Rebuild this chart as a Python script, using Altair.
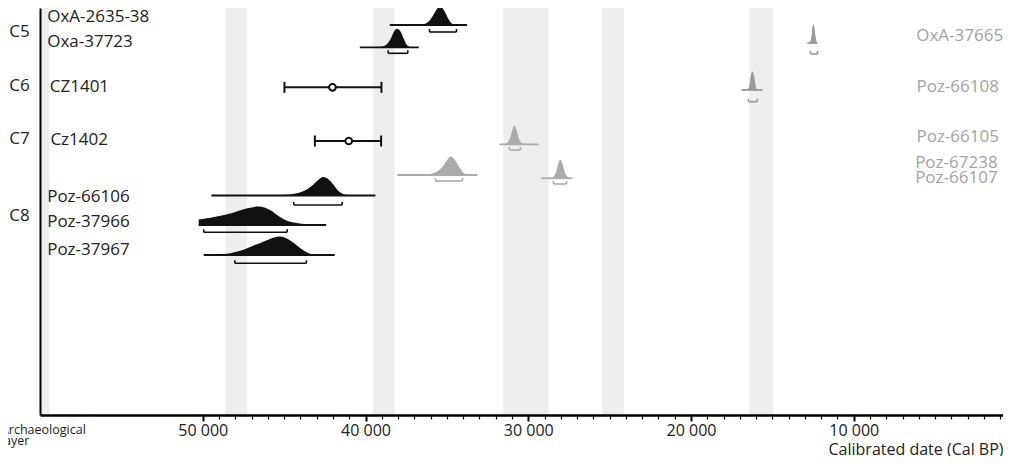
import altair as alt
import pandas as pd

# ---------------- data ----------------
# grey bands (cal BP): start / end
band_start = [60000, 48600, 39550, 31540, 25460, 16410]
band_end = [59420, 47270, 38220, 28740, 24130, 14950]

# archaeological layers and their row positions
layer_names = ["C5", "C6", "C7", "C8"]
layer_row = [31.7, 86, 139.3, 216]

# calibrated probability distributions
curve_names = ["OxA-2635-38", "Oxa-37723", "Poz-66106", "Poz-37966", "Poz-37967",
               "Poz-67238", "Poz-66105", "Poz-66107", "Poz-66108", "OxA-37665"]
curve_status = ["in sequence"] * 5 + ["outlier"] * 3 + ["late outlier"] * 2
curve_row = [25, 47.3, 195.5, 225, 255, 175, 144.3, 178.3, 90, 43]

oxa263538_yr = [38510, 36620, 36260, 36010, 35760, 35580, 35430, 35270, 35090, 34900, 34720, 34470, 33760]
oxa263538_den = [0, 0.02, 0.1, 0.3, 0.65, 0.9, 1, 0.92, 0.65, 0.32, 0.1, 0.02, 0]
oxa37723_yr = [40350, 39080, 38710, 38460, 38280, 38060, 37850, 37670, 37480, 37240, 36730]
oxa37723_den = [0, 0.03, 0.15, 0.45, 0.8, 1, 0.85, 0.5, 0.15, 0.02, 0]
poz66106_yr = [49470, 45840, 44610, 44000, 43570, 43200, 42890, 42600, 42340, 42030, 41720, 41420, 41110, 39390]
poz66106_den = [0, 0.01, 0.06, 0.17, 0.35, 0.6, 0.85, 1, 0.92, 0.65, 0.3, 0.1, 0.02, 0]
poz37966_yr = [50250, 49830, 49220, 48300, 47270, 46580, 45840, 45230, 44810, 44300, 43590, 43080, 42420]
poz37966_den = [0.3, 0.35, 0.45, 0.62, 0.9, 1, 0.8, 0.42, 0.23, 0.12, 0.04, 0.01, 0]
poz37967_yr = [49940, 49220, 48300, 47810, 47270, 46760, 46250, 45720, 45230, 44800, 44410, 44120, 43800, 43380, 43010, 41890]
poz37967_den = [0, 0.03, 0.1, 0.2, 0.37, 0.55, 0.73, 0.92, 1, 0.88, 0.65, 0.45, 0.25, 0.06, 0.01, 0]
poz67238_yr = [38040, 36620, 36010, 35580, 35270, 35030, 34780, 34600, 34350, 34100, 33860, 33550, 33120]
poz67238_den = [0, 0.02, 0.06, 0.2, 0.45, 0.75, 1, 0.92, 0.6, 0.25, 0.06, 0.01, 0]
poz66105_yr = [31770, 31400, 31220, 31100, 30970, 30850, 30730, 30600, 30480, 30300, 29370]
poz66105_den = [0, 0.03, 0.15, 0.4, 0.8, 1, 0.8, 0.4, 0.15, 0.03, 0]
poz66107_yr = [29190, 28580, 28390, 28270, 28150, 28020, 27900, 27780, 27650, 27470, 27280]
poz66107_den = [0, 0.03, 0.15, 0.4, 0.8, 1, 0.8, 0.4, 0.15, 0.03, 0]
poz66108_yr = [16900, 16530, 16440, 16380, 16320, 16230, 16130, 16070, 16010, 15920, 15610]
poz66108_den = [0, 0.03, 0.15, 0.45, 0.8, 1, 0.8, 0.45, 0.15, 0.03, 0]
oxa37665_yr = [12850, 12660, 12580, 12540, 12480, 12420, 12370, 12290, 12230]
oxa37665_den = [0, 0.1, 0.5, 0.85, 1, 0.85, 0.5, 0.1, 0]

curve_years = [oxa263538_yr, oxa37723_yr, poz66106_yr, poz37966_yr, poz37967_yr,
               poz67238_yr, poz66105_yr, poz66107_yr, poz66108_yr, oxa37665_yr]
curve_dens = [oxa263538_den, oxa37723_den, poz66106_den, poz37966_den, poz37967_den,
              poz67238_den, poz66105_den, poz66107_den, poz66108_den, oxa37665_den]

# 95% ranges (brackets)
range_lo = [36070, 38610, 44410, 49940, 48030, 35700, 31160, 28450, 16470, 12660]
range_hi = [34410, 37400, 41435, 44815, 43630, 34040, 30480, 27650, 15920, 12230]
range_row = [32, 53.3, 205, 232.3, 263.3, 181, 150, 184, 101.7, 54]

# error-bar dates
eb_names = ["CZ1401", "Cz1402"]
eb_lo = [44980, 43110]
eb_hi = [39020, 39040]
eb_mid = [42030, 41030]
eb_row = [87.3, 141]

# sample labels
left_labels = ["OxA-2635-38", "Oxa-37723", "CZ1401", "Cz1402", "Poz-66106", "Poz-37966", "Poz-37967"]
left_label_row = [16.5, 41.7, 87.3, 140, 196.7, 221.7, 250]
left_label_x = [59560, 59560, 59400, 59360, 59560, 59560, 59560]
right_labels = ["OxA-37665", "Poz-66108", "Poz-66105", "Poz-67238", "Poz-66107"]
right_label_row = [36, 87, 137, 162.5, 177.5]
right_label_x = [820, 1080, 1080, 1160, 1160]

status_domain = ["in sequence", "outlier", "late outlier"]
status_colors = ["#111111", "#ababab", "#9a9a9a"]

# ---------------- tables ----------------
H = 18.5
dens_rows, base_rows = [], []
for nm, st, row, yrs, dd in zip(curve_names, curve_status, curve_row, curve_years, curve_dens):
    for yv, d in zip(yrs, dd):
        dens_rows.append({"sample": nm, "status": st, "year": yv, "top": row - H * d, "base": row})
    base_rows.append({"sample": nm, "status": st, "start": yrs[0], "end": yrs[-1], "base": row})
dens = pd.DataFrame(dens_rows)
basel = pd.DataFrame(base_rows)

br = pd.DataFrame({"sample": curve_names, "status": curve_status, "lo": range_lo,
                   "hi": range_hi, "row": range_row})
br["tip"] = br["row"] - 3
br_ends = pd.concat([br.assign(x=br["lo"]), br.assign(x=br["hi"])])

eb = pd.DataFrame({"sample": eb_names, "lo": eb_lo, "hi": eb_hi, "mid": eb_mid, "row": eb_row})
eb["c1"] = eb["row"] - 5.5
eb["c2"] = eb["row"] + 5.5
eb_ends = pd.concat([eb.assign(x=eb["lo"]), eb.assign(x=eb["hi"])])

bands = pd.DataFrame({"start": band_start, "end": band_end})
lay = pd.DataFrame({"name": layer_names, "row": layer_row, "x": [61260] * 4})
ll = pd.DataFrame({"name": left_labels, "row": left_label_row, "x": left_label_x})
rl = pd.DataFrame({"name": right_labels, "row": right_label_row, "x": right_label_x})
arch = pd.DataFrame({"name": ["Archaeological", "layer"], "row": [429.5, 440.5], "x": [62400, 62400]})

# ---------------- scales / axes ----------------
FONT = "Open Sans"
xs = alt.Scale(domain=[60000, 830], nice=False, zero=False)
xa = alt.Axis(
    values=list(range(1000, 50001, 1000)),
    labelExpr="datum.value % 10000 === 0 ? replace(format(datum.value, ','), ',', ' ') : ''",
    tickSize={"condition": {"test": "datum.value % 10000 === 0", "value": 6}, "value": 4},
    tickWidth={"condition": {"test": "datum.value % 10000 === 0", "value": 2}, "value": 1.2},
    tickColor="black", domainColor="black", domainWidth=2.5, grid=False,
    labelFont=FONT, labelFontSize=16, labelColor="#222222", labelPadding=1,
    labelOverlap=False, labelFlush=False,
    title="Calibrated date (Cal BP)", titleFont=FONT, titleFontSize=16,
    titleFontWeight="normal", titleColor="#222222", titleAlign="right",
    titleAnchor="end", titleX=963, titleY=39, titleBaseline="alphabetic", zindex=1,
)
ys = alt.Scale(domain=[8, 415], reverse=True, nice=False, zero=False)
ya = alt.Axis(domain=True, domainColor="black", domainWidth=2, ticks=False, labels=False,
              grid=False, title=None, zindex=1)


def X(f):
    return alt.X(f"{f}:Q", scale=xs, axis=xa)


def Y(f):
    return alt.Y(f"{f}:Q", scale=ys, axis=ya)


C = alt.Color("status:N", scale=alt.Scale(domain=status_domain, range=status_colors), legend=None)

band_layer = alt.Chart(bands).mark_rect(color="#eceef0").encode(x=X("start"), x2="end")
area_layer = alt.Chart(dens).mark_area(interpolate="monotone").encode(
    x=X("year"), y=Y("top"), y2="base", color=C, detail="sample:N")
base_layer = alt.Chart(basel).mark_rule(strokeWidth=1.8).encode(
    x=X("start"), x2="end", y=Y("base"), color=C)
br_layer = alt.Chart(br).mark_rule(strokeWidth=1.6).encode(
    x=X("lo"), x2="hi", y=Y("row"), color=C)
br_end_layer = alt.Chart(br_ends).mark_rule(strokeWidth=1.6).encode(
    x=X("x"), y=Y("tip"), y2="row", color=C)
eb_layer = alt.Chart(eb).mark_rule(strokeWidth=2, color="#111111").encode(
    x=X("lo"), x2="hi", y=Y("row"))
eb_cap_layer = alt.Chart(eb_ends).mark_rule(strokeWidth=2, color="#111111").encode(
    x=X("x"), y=Y("c1"), y2="c2")
eb_pt_layer = alt.Chart(eb).mark_point(shape="circle", filled=False, fill="white", fillOpacity=1,
                                       stroke="#111111", strokeWidth=2, size=45, opacity=1).encode(
    x=X("mid"), y=Y("row"))
lay_layer = alt.Chart(lay).mark_text(font=FONT, fontSize=17, color="#222222", align="center",
                                     baseline="middle").encode(x=X("x"), y=Y("row"), text="name:N")
ll_layer = alt.Chart(ll).mark_text(font=FONT, fontSize=17, color="#222222", align="left",
                                   baseline="middle").encode(x=X("x"), y=Y("row"), text="name:N")
rl_layer = alt.Chart(rl).mark_text(font=FONT, fontSize=17, color="#a3a3a3", align="right",
                                   baseline="middle").encode(x=X("x"), y=Y("row"), text="name:N")
arch_layer = alt.Chart(arch).mark_text(font=FONT, fontSize=12.5, color="#222222", align="left",
                                       baseline="middle").encode(x=X("x"), y=Y("row"), text="name:N")

chart = alt.layer(
    band_layer, area_layer, base_layer, br_layer, br_end_layer,
    eb_layer, eb_cap_layer, eb_pt_layer, lay_layer, ll_layer, rl_layer, arch_layer,
).properties(
    width=963, height=407,
    autosize=alt.AutoSizeParams(type="none"),
    padding={"left": 32, "top": 0, "right": 0, "bottom": 41},
).configure(font=FONT).configure_view(stroke=None)

chart.save("out.html", embed_options={"renderer": "svg", "actions": False})
